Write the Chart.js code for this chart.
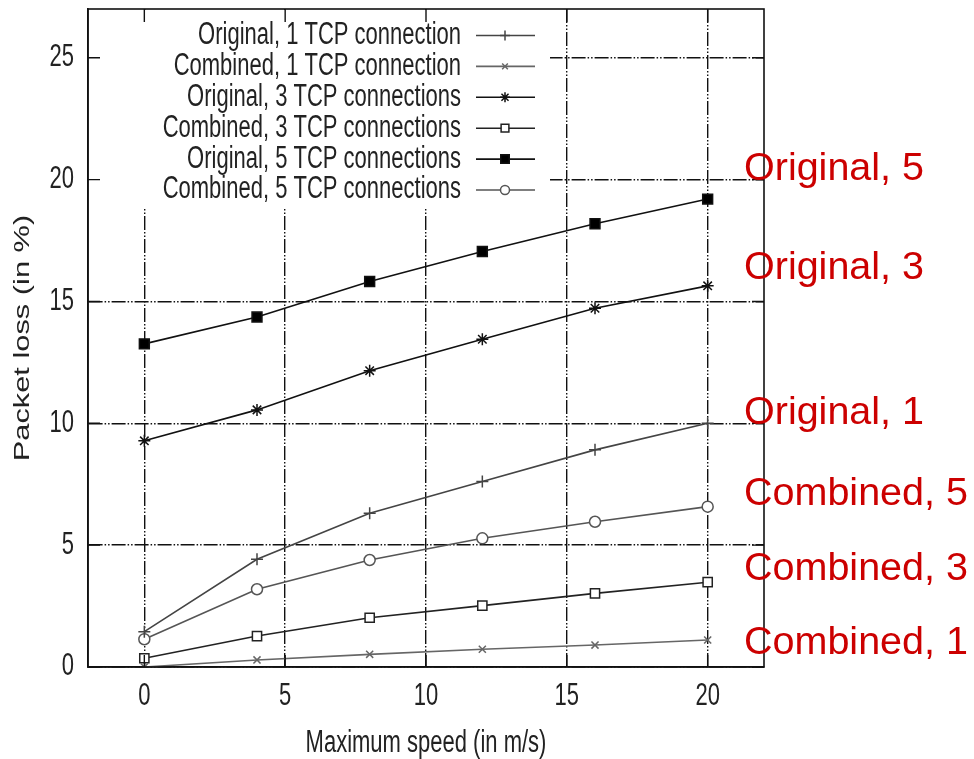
<!DOCTYPE html>
<html>
<head>
<meta charset="utf-8">
<script src="https://cdn.jsdelivr.net/npm/chart.js@4/dist/chart.umd.min.js"></script>
<style>
  html, body { margin: 0; padding: 0; background: #ffffff; }
  #wrap { width: 974px; height: 759px; }
</style>
</head>
<body>
<div id="wrap"><canvas id="c" width="974" height="759"></canvas></div>
<script>
// ---- data ----
const speeds = [0, 4, 8, 12, 16, 20];
const original1 = [1.45, 4.42, 6.31, 7.61, 8.91, 10.0];
const combined1 = [0.0, 0.29, 0.52, 0.73, 0.9, 1.11];
const original3 = [9.28, 10.55, 12.16, 13.45, 14.72, 15.64];
const combined3 = [0.36, 1.27, 2.02, 2.52, 3.02, 3.48];
const original5 = [13.26, 14.36, 15.82, 17.05, 18.19, 19.2];
const combined5 = [1.14, 3.19, 4.39, 5.28, 5.96, 6.58];

const seriesNames = [
  'Original, 1 TCP connection',
  'Combined, 1 TCP connection',
  'Original, 3 TCP connections',
  'Combined, 3 TCP connections',
  'Original, 5 TCP connections',
  'Combined, 5 TCP connections'
];
const xTickLabels = ['0', '5', '10', '15', '20'];
const yTickLabels = ['0', '5', '10', '15', '20', '25'];
const xTitle = 'Maximum speed (in m/s)';
const yTitle = 'Packet loss (in %)';
const annotationLabels = ['Original, 5', 'Original, 3', 'Original, 1', 'Combined, 5', 'Combined, 3', 'Combined, 1'];

// ---- styling ----
const FONT = '"Liberation Sans", Arial, Helvetica, sans-serif';
const STRETCH = 1.4;
const styles = [
  { color: '#444444', pointStyle: 'cross',    radius: 6, bg: '#444444' },
  { color: '#666666', pointStyle: 'crossRot', radius: 5, bg: '#666666' },
  { color: '#111111', pointStyle: 'star',     radius: 6, bg: '#111111' },
  { color: '#222222', pointStyle: 'rect',     radius: 6.5, bg: '#ffffff' },
  { color: '#111111', pointStyle: 'rect',     radius: 7, bg: '#000000' },
  { color: '#555555', pointStyle: 'circle',   radius: 5.5, bg: '#ffffff' }
];
const seriesValues = [original1, combined1, original3, combined3, original5, combined5];

const datasets = seriesValues.map((vals, i) => ({
  label: seriesNames[i],
  data: speeds.map((s, k) => ({ x: s, y: vals[k] })),
  borderColor: styles[i].color,
  backgroundColor: styles[i].bg,
  pointBorderColor: styles[i].color,
  pointBackgroundColor: styles[i].bg,
  pointStyle: styles[i].pointStyle,
  pointRadius: styles[i].radius,
  pointBorderWidth: 1.5,
  borderWidth: 1.6,
  tension: 0,
  fill: false
}));

function stretchedText(ctx, text, x, y, align, baseline, size, color, rotate) {
  ctx.save();
  ctx.translate(x, y);
  if (rotate) ctx.rotate(-Math.PI / 2);
  if (rotate) ctx.scale(STRETCH, 1); else ctx.scale(1, STRETCH);
  ctx.font = size + 'px ' + FONT;
  ctx.fillStyle = color;
  ctx.textAlign = align;
  ctx.textBaseline = baseline;
  ctx.fillText(text, 0, 0);
  ctx.restore();
}

const decorPlugin = {
  id: 'decor',
  beforeDatasetsDraw(chart) {
    const ctx = chart.ctx;
    // legend box (white) hides the grid behind the key
    ctx.save();
    ctx.fillStyle = '#ffffff';
    ctx.fillRect(chart.chartArea.left + 1, chart.chartArea.top + 1, 461, 197);
    ctx.restore();
  },
  afterDraw(chart) {
    const ctx = chart.ctx;
    const a = chart.chartArea;
    const xs = chart.scales.x, ys = chart.scales.y;

    // frame
    ctx.save();
    ctx.strokeStyle = '#111111';
    ctx.lineWidth = 1.6;
    ctx.strokeRect(a.left, a.top, a.right - a.left, a.bottom - a.top);
    // inward tick marks on all four sides
    ctx.lineWidth = 1.4;
    ctx.beginPath();
    xTickLabels.forEach(t => {
      const px = xs.getPixelForValue(Number(t));
      ctx.moveTo(px, a.bottom); ctx.lineTo(px, a.bottom - 12);
      ctx.moveTo(px, a.top); ctx.lineTo(px, a.top + 13);
    });
    yTickLabels.forEach(t => {
      const py = ys.getPixelForValue(Number(t));
      ctx.moveTo(a.left, py); ctx.lineTo(a.left + 12, py);
      ctx.moveTo(a.right, py); ctx.lineTo(a.right - 12, py);
    });
    ctx.stroke();
    ctx.restore();

    // tick labels
    xTickLabels.forEach(t => {
      stretchedText(ctx, t, xs.getPixelForValue(Number(t)), a.bottom + 30, 'center', 'middle', 22, '#222222');
    });
    yTickLabels.forEach(t => {
      stretchedText(ctx, t, a.left - 14, ys.getPixelForValue(Number(t)), 'right', 'middle', 22, '#222222');
    });

    // axis titles
    stretchedText(ctx, xTitle, (a.left + a.right) / 2, 744, 'center', 'middle', 22, '#222222');
    stretchedText(ctx, yTitle, 23, (a.top + a.bottom) / 2, 'center', 'middle', 22, '#222222', true);

    // key
    const rowY0 = 35.5, rowStep = 30.9;
    const textRight = 461, lineX0 = 476, lineX1 = 535, markX = 505;
    chart.data.datasets.forEach((ds, i) => {
      const y = rowY0 + i * rowStep;
      stretchedText(ctx, ds.label, textRight, y, 'right', 'middle', 22, '#222222');
      ctx.save();
      ctx.strokeStyle = ds.borderColor;
      ctx.lineWidth = 1.6;
      ctx.beginPath();
      ctx.moveTo(lineX0, y); ctx.lineTo(lineX1, y);
      ctx.stroke();
      ctx.strokeStyle = ds.pointBorderColor;
      ctx.fillStyle = ds.pointBackgroundColor;
      ctx.lineWidth = 1.5;
      Chart.helpers.drawPoint(ctx, { pointStyle: ds.pointStyle, radius: ds.pointRadius - 1, rotation: 0, borderWidth: 1.5 }, markX, y);
      ctx.restore();
    });

    // red annotations on the right
    const baselines = [180, 279, 424, 505, 580, 654];
    ctx.save();
    ctx.font = '39.5px ' + FONT;
    ctx.fillStyle = '#cc0000';
    ctx.textAlign = 'left';
    ctx.textBaseline = 'alphabetic';
    annotationLabels.forEach((t, i) => ctx.fillText(t, 744, baselines[i]));
    ctx.restore();
  }
};

const gridDash = [14, 2, 1.5, 2, 1.5, 2];

new Chart(document.getElementById('c'), {
  type: 'line',
  data: { datasets },
  options: {
    responsive: false,
    animation: false,
    devicePixelRatio: 1,
    layout: { padding: { top: 9, right: 210, left: 0, bottom: 0 } },
    plugins: { legend: { display: false }, tooltip: { enabled: false } },
    scales: {
      x: {
        type: 'linear',
        min: -2, max: 22,
        afterFit(s) { s.height = 92; },
        ticks: { stepSize: 5, includeBounds: false, display: false },
        grid: { color: '#111111', lineWidth: 1.4, drawTicks: false },
        border: { display: true, color: '#111111', width: 1.6, dash: gridDash }
      },
      y: {
        type: 'linear',
        min: 0, max: 27,
        afterFit(s) { s.width = 88; },
        ticks: { stepSize: 5, includeBounds: false, display: false },
        grid: { color: '#111111', lineWidth: 1.4, drawTicks: false },
        border: { display: true, color: '#111111', width: 1.6, dash: gridDash }
      }
    }
  },
  plugins: [decorPlugin]
});
</script>
</body>
</html>
